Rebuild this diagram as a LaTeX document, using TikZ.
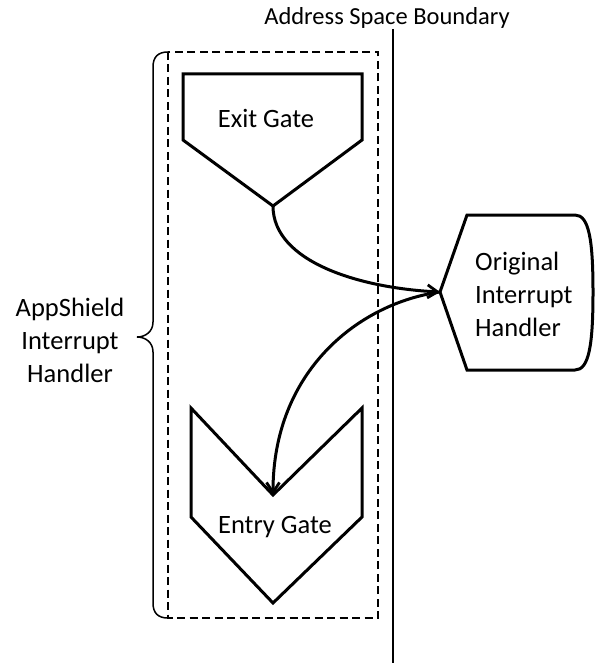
\documentclass[tikz,border=0pt]{standalone}
\usepackage{fontspec}
\setmainfont{Carlito}
\usetikzlibrary{arrows.meta}
\begin{document}
\begin{tikzpicture}[x=1pt,y=-1pt,
  shapeline/.style={line width=3pt, line join=miter},
  conn/.style={line width=3pt, -{Straight Barb[length=10pt,width=13pt,line width=2.8pt]}},
  lbl/.style={font=\fontsize{26.5}{33}\selectfont, inner sep=0pt, align=center},
  lbll/.style={font=\fontsize{26.5}{33}\selectfont, inner sep=0pt, align=left},
  toplbl/.style={font=\fontsize{24.5}{30}\selectfont, inner sep=0pt},
  dashbox/.style={line width=2.6pt, dash pattern=on 8pt off 4.5pt},
  thin/.style={line width=1.3pt}]
\useasboundingbox (0,0) rectangle (595,663);

% address space boundary
\node[toplbl, anchor=base] (asb) at (387,25) {Address Space Boundary};
\coordinate (bt) at (393,29);
\coordinate (bb) at (393,663);
\draw[thin] (bt) -- (bb);

% dashed box
\draw[dashbox] (168,52) rectangle (378,618);

% brace
\draw[line width=1.5pt] (168,52) .. controls (158,52) and (153,57) .. (153,67)
  -- (153,322) .. controls (153,332) and (145,337) .. (137,337)
  .. controls (145,337) and (153,342) .. (153,352)
  -- (153,603) .. controls (153,613) and (158,618) .. (168,618);
\node[lbl] (ash) at (70,340) {AppShield\\Interrupt\\Handler};

% exit gate
\coordinate (exittip) at (273,206);
\draw[shapeline] (183,74) -- (362,74) -- (362,140) -- (exittip) -- (183,140) -- cycle;
\node[lbl, anchor=base] (exit) at (266,128) {Exit Gate};

% entry gate
\coordinate (entrynotch) at (273,495);
\draw[shapeline] (191,408) -- (entrynotch) -- (362,408) -- (362,517) -- (273,603) -- (191,517) -- cycle;
\node[lbl, anchor=base] (entry) at (275,533) {Entry Gate};

% original interrupt handler
\coordinate (origpt) at (440,292);
\draw[shapeline] (origpt) -- (467,215) -- (575,215)
  .. controls (589,215) and (593,240) .. (593,292)
  .. controls (593,345) and (589,370) .. (575,370)
  -- (467,370) -- cycle;
\node[lbll, anchor=west] (orig) at (475,294) {Original\\Interrupt\\Handler};

% connectors
\draw[conn] (exittip) .. controls (273,262) and (360,288) .. (origpt);
\draw[conn] (origpt) .. controls (360,303) and (273,370) .. (entrynotch);
\end{tikzpicture}
\end{document}
